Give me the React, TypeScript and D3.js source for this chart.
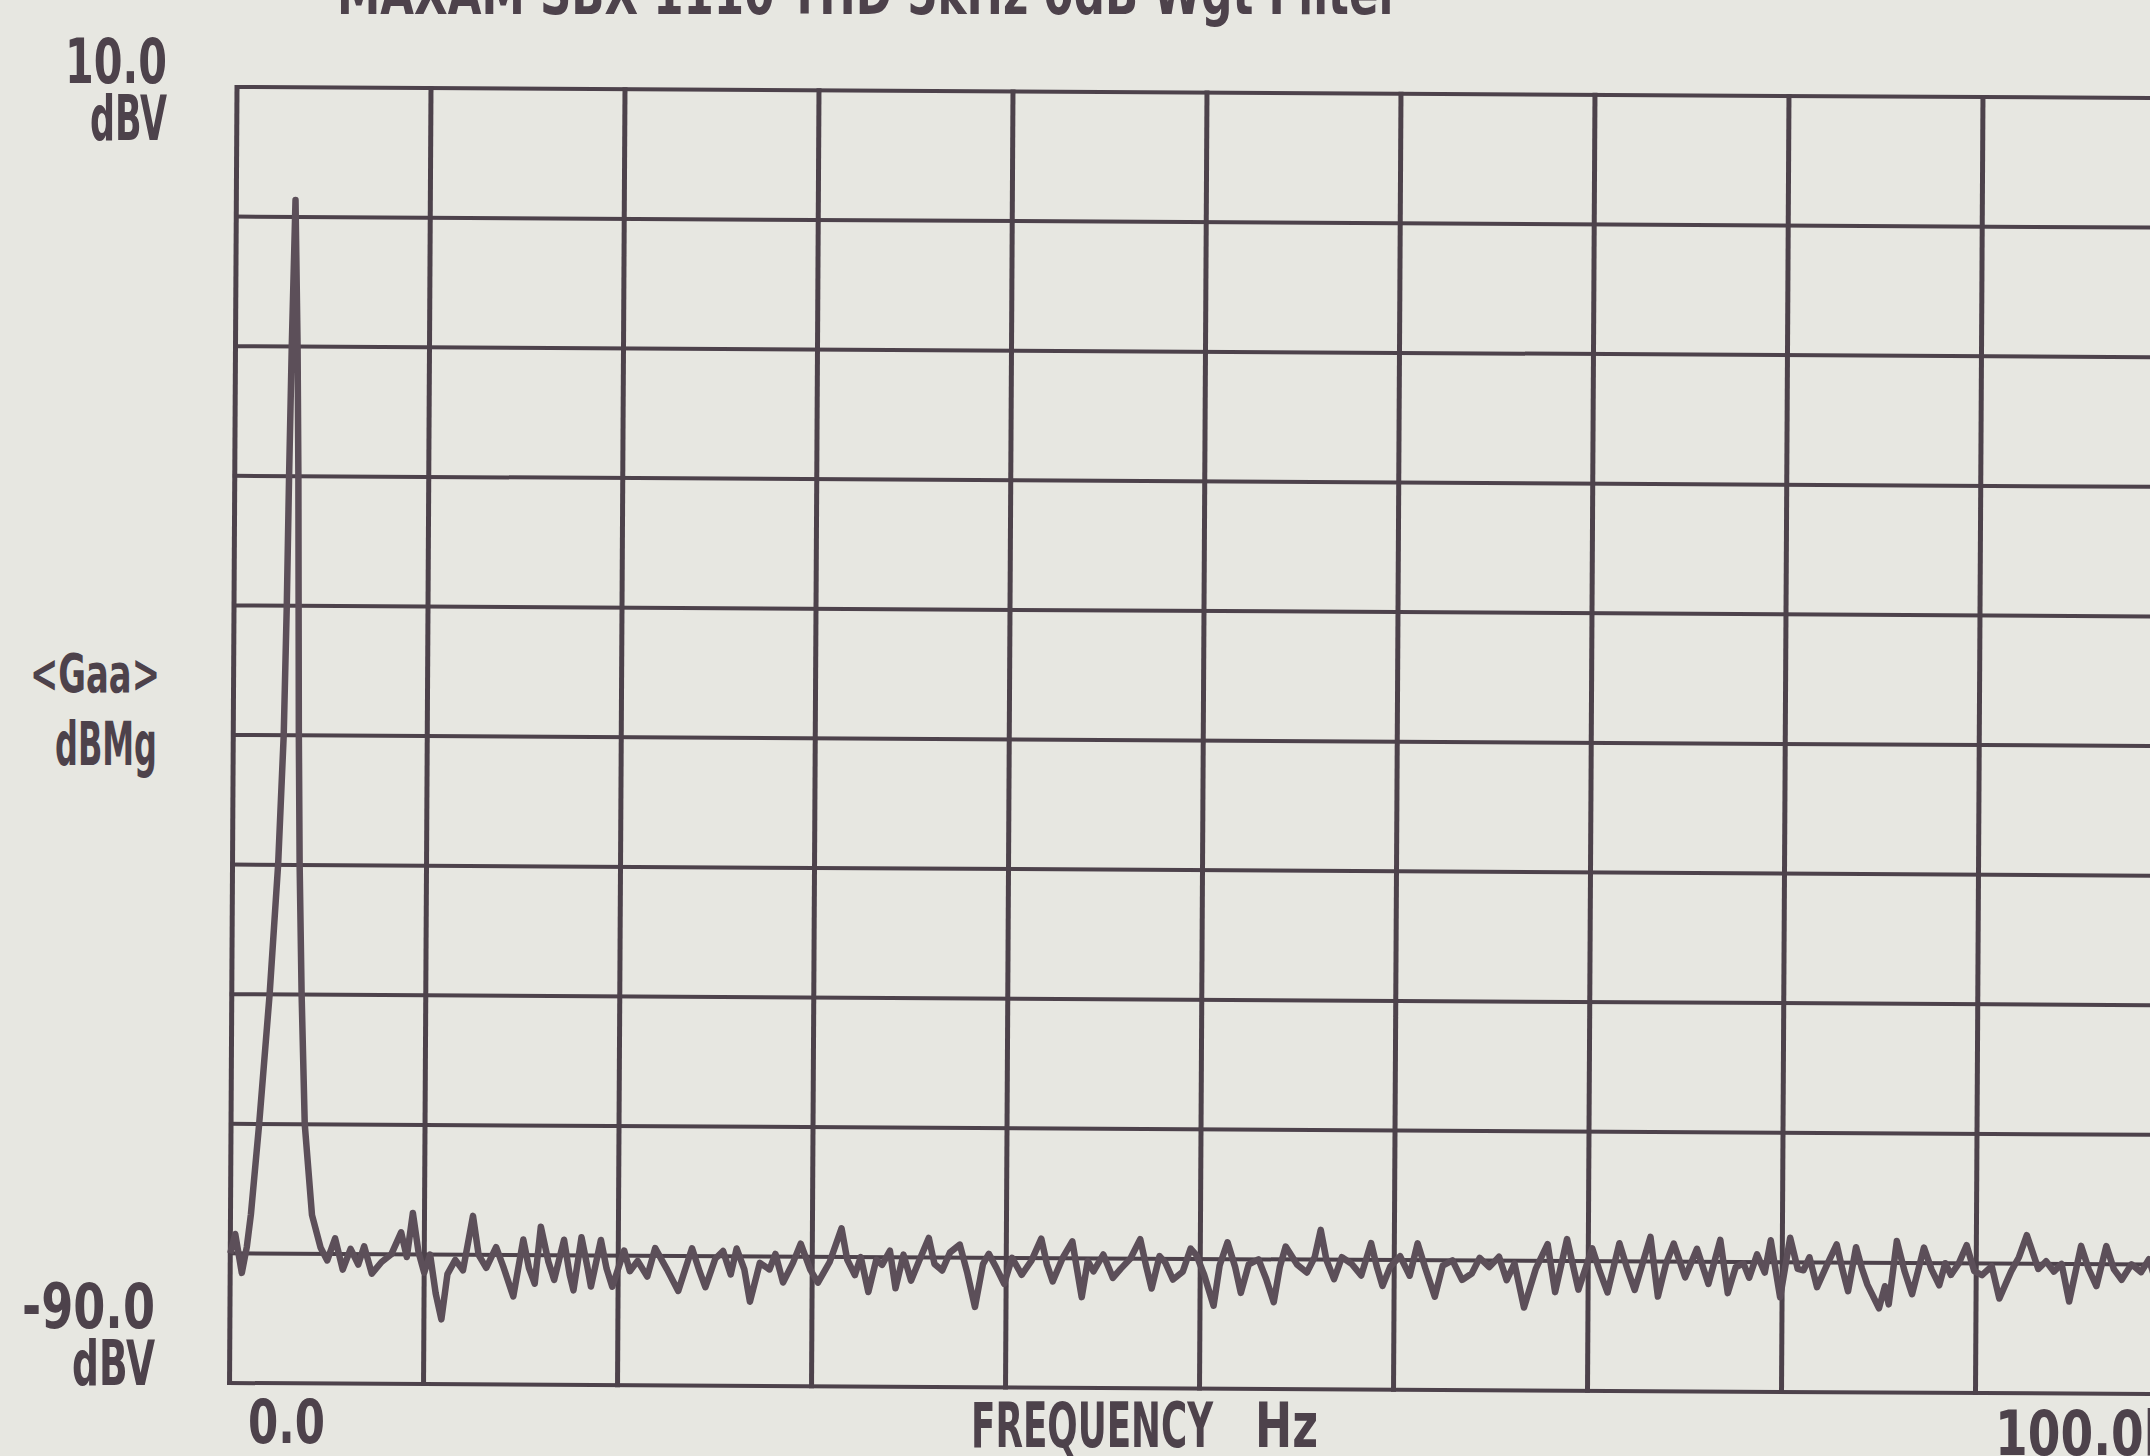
import React, { useEffect, useRef } from 'react';
import * as d3 from 'd3';

// frequency in kHz, level in dB
const peakFreq = [0, 0.25, 0.6, 0.85, 1.05, 1.45, 1.95, 2.35, 2.6, 2.72, 2.8, 2.9, 3.05, 3.2, 3.28, 3.33, 3.38, 3.46, 3.6, 3.8, 4.2, 4.65, 5.0];
const peakDb = [-80, -78.5, -81.5, -79.5, -77, -70, -60, -50, -40, -30, -20, -10, 1.3, -10, -20, -30, -40, -50, -60, -70, -77, -79.5, -80.5];

const noiseFreq = [
  5.4, 5.8, 6.2, 6.6, 6.9, 7.3, 7.8, 8.3, 8.8, 9.1, 9.4, 9.7, 10.0, 10.3, 10.6, 10.9, 11.2, 11.6, 12.0, 12.5,
  12.8, 13.2, 13.7, 14.1, 14.6, 15.1, 15.4, 15.7, 16.0, 16.4, 16.7, 17.2, 17.5, 17.7, 18.1, 18.4, 18.6, 19.1, 19.4, 19.7,
  20.3, 20.6, 21.0, 21.5, 21.9, 22.5, 23.1, 23.8, 24.2, 24.5, 25.0, 25.4, 25.8, 26.1, 26.5, 26.8, 27.3, 27.8, 28.1, 28.5,
  29.0, 29.4, 29.9, 30.3, 30.9, 31.5, 31.8, 32.2, 32.5, 32.9, 33.3, 33.6, 34.0, 34.3, 34.7, 35.1, 35.5, 36.0, 36.3, 36.7,
  37.1, 37.6, 38.0, 38.4, 38.8, 39.1, 39.5, 39.9, 40.3, 40.8, 41.3, 41.8, 42.1, 42.4, 42.9, 43.4, 43.9, 44.2, 44.5, 45.0,
  45.5, 45.9, 46.4, 46.9, 47.2, 47.5, 47.9, 48.2, 48.6, 49.1, 49.5, 49.8, 50.2, 50.7, 51.0, 51.4, 51.8, 52.1, 52.5, 53.0,
  53.4, 53.8, 54.1, 54.4, 55.0, 55.5, 55.9, 56.2, 56.5, 56.9, 57.3, 57.8, 58.3, 58.8, 59.1, 59.4, 59.8, 60.3, 60.8, 61.2,
  61.6, 62.1, 62.5, 63.0, 63.5, 64.0, 64.4, 64.9, 65.4, 65.8, 66.2, 66.7, 67.3, 67.9, 68.3, 68.9, 69.5, 70.2, 70.6, 71.0,
  71.6, 72.0, 72.4, 73.2, 73.6, 74.0, 74.4, 75.0, 75.6, 76.2, 76.8, 77.2, 77.6, 78.0, 78.3, 78.7, 79.1, 79.4, 79.9, 80.4,
  80.8, 81.1, 81.4, 81.8, 82.3, 82.8, 83.1, 83.4, 83.8, 84.1, 84.4, 85.0, 85.3, 85.5, 85.9, 86.3, 86.7, 87.3, 87.7, 88.1,
  88.4, 88.7, 89.1, 89.5, 89.9, 90.3, 90.8, 91.2, 91.8, 92.2, 92.6, 93.2, 93.6, 94.0, 94.4, 94.8, 95.4, 95.8, 96.2, 96.7,
  97.1, 97.5, 98.0, 98.5, 98.9, 99.3, 100,
];
const noiseDb = [
  -78.8, -81.2, -79.6, -80.8, -79.4, -81.5, -80.6, -80, -78.3, -80.2, -76.8, -79.8, -81.4, -80, -83, -85, -81.5, -80.4, -81.2, -77,
  -80, -81, -79.4, -81, -83.2, -78.8, -81, -82.2, -77.8, -80.5, -81.9, -78.8, -81.5, -82.7, -78.6, -80.8, -82.4, -78.8, -81, -82.4,
  -79.6, -81.2, -80.4, -81.6, -79.4, -81, -82.7, -79.4, -81.2, -82.4, -80.2, -79.6, -81.4, -79.4, -81, -83.5, -80.5, -81, -79.8, -82,
  -80.5, -79, -81, -82, -80.4, -77.8, -80.2, -81.4, -80, -82.7, -80.2, -80.6, -79.5, -82.4, -79.8, -81.8, -80.3, -78.5, -80.5, -81,
  -79.6, -79, -81.2, -83.8, -80.5, -79.7, -80.8, -82, -80, -81.3, -80.2, -78.5, -80.5, -81.8, -80, -78.7, -83, -80.2, -81, -79.7,
  -81.5, -80.8, -80, -78.5, -80.5, -82.3, -79.8, -80.3, -81.6, -81, -79.2, -79.7, -81.2, -83.6, -80.5, -78.7, -80.6, -82.6, -80.4, -80,
  -81.5, -83.3, -80.6, -79, -80.4, -81, -79.8, -77.7, -80, -81.5, -79.8, -80.3, -81.2, -78.7, -80.5, -82, -80.5, -79.7, -81.2, -78.7,
  -80.6, -82.8, -80.4, -80, -81.5, -81, -79.8, -80.5, -79.7, -81.5, -80.2, -83.6, -80.6, -78.7, -82.4, -78.3, -82.2, -79, -80.8, -82.4,
  -78.6, -80.5, -82.2, -78.1, -82.7, -80.2, -78.6, -81.2, -79, -81.7, -78.3, -82.4, -80.4, -80.1, -81.2, -79.4, -80.8, -78.3, -82.7, -78.1,
  -80.5, -80.6, -79.6, -81.9, -80.2, -78.6, -80.5, -82.2, -78.8, -80.4, -81.7, -83.5, -81.8, -83.2, -78.3, -80.6, -82.4, -78.8, -80.5, -81.7,
  -80, -80.9, -80, -78.6, -80.6, -80.9, -80.2, -82.7, -80.6, -79.5, -77.8, -80.4, -79.8, -80.6, -80, -82.9, -78.6, -80.4, -81.7, -78.6,
  -80.4, -81.2, -80, -80.6, -79.6, -81.5, -80.2,
];

const xTickLabels = ['0.0', '100.0k'];
const yTickLabels = ['10.0', '-90.0'];
const yUnit = 'dBV';
const titleText = 'MAXAM SBX 1110  THD 5kHz 0dB Wgt Filter';

interface Pt {
  f: number;
  db: number;
}

const W = 2150;
const H = 1456;
const ink = '#4d424b';
const trace = '#5c4f59';
const font = '"DejaVu Sans Condensed", "Liberation Sans Narrow", sans-serif';

const App = () => {
  const svgRef = useRef<SVGSVGElement>(null);

  useEffect(() => {
    const svg = d3.select(svgRef.current);
    svg.selectAll('*').remove();

    const pw = 1940;
    const ph = 1296;
    const xScale = d3.scaleLinear().domain([0, 100]).range([0, pw]);
    const yScale = d3.scaleLinear().domain([-90, 10]).range([ph, 0]);

    // scanned plot is tilted a little
    const g = svg.append('g').attr('transform', 'translate(237,87) rotate(0.33)');

    g.selectAll('line.h')
      .data(yScale.ticks(10))
      .join('line')
      .attr('class', 'h')
      .attr('x1', -2)
      .attr('x2', pw + 2)
      .attr('y1', (d) => yScale(d))
      .attr('y2', (d) => yScale(d))
      .attr('stroke', ink)
      .attr('stroke-width', 4);

    g.selectAll('line.v')
      .data(xScale.ticks(10))
      .join('line')
      .attr('class', 'v')
      .attr('x1', (d) => xScale(d))
      .attr('x2', (d) => xScale(d))
      .attr('y1', -2)
      .attr('y2', ph + 2)
      .attr('stroke', ink)
      .attr('stroke-width', 5);

    const pts: Pt[] = [];
    peakFreq.forEach((f, i) => pts.push({ f, db: peakDb[i] }));
    noiseFreq.forEach((f, i) => pts.push({ f, db: noiseDb[i] }));

    const line = d3
      .line<Pt>()
      .x((d) => xScale(d.f))
      .y((d) => yScale(d.db));

    g.append('path')
      .datum(pts)
      .attr('d', line)
      .attr('fill', 'none')
      .attr('stroke', trace)
      .attr('stroke-width', 6.5)
      .attr('stroke-linejoin', 'round');

    // labels sit where the scan put them
    const labels: [string, number, number, number, string, number][] = [
      [titleText, 337, 14, 1063, 'start', 60],
      [yTickLabels[0], 167, 83, 102, 'end', 62],
      [yUnit, 167, 140, 77, 'end', 62],
      ['<Gaa>', 160, 692, 130, 'end', 54],
      ['dBMg', 157, 765, 102, 'end', 60],
      [yTickLabels[1], 155, 1328, 133, 'end', 62],
      [yUnit, 155, 1385, 83, 'end', 62],
      [xTickLabels[0], 248, 1443, 77, 'start', 60],
      ['FREQUENCY', 971, 1447, 242, 'start', 62],
      ['Hz', 1255, 1447, 63, 'start', 62],
      [xTickLabels[1], 1995, 1455, 180, 'start', 62],
    ];

    svg
      .selectAll('text')
      .data(labels)
      .join('text')
      .attr('x', (d) => d[1])
      .attr('y', (d) => d[2])
      .attr('textLength', (d) => d[3])
      .attr('lengthAdjust', 'spacingAndGlyphs')
      .attr('text-anchor', (d) => d[4])
      .attr('font-size', (d) => d[5])
      .attr('font-family', font)
      .attr('font-weight', 'bold')
      .attr('fill', ink)
      .text((d) => d[0]);
  }, []);

  return (
    <div style={{ position: 'absolute', left: 0, top: 0 }}>
      <svg ref={svgRef} width={W} height={H} style={{ display: 'block', backgroundColor: '#e7e7e1' }} />
    </div>
  );
};

export default App;
